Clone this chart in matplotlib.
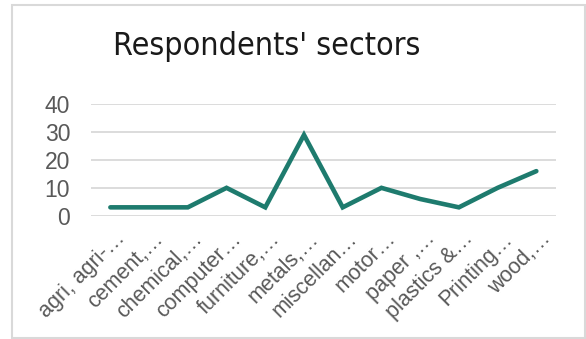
import matplotlib
matplotlib.use("Agg")
import matplotlib.pyplot as plt
from matplotlib.patches import Rectangle
from matplotlib.transforms import ScaledTranslation

categories = ["agri, agri-…", "cement,…", "chemical,…", "computer…",
              "furniture,…", "metals,…", "miscellan…", "motor…",
              "paper ,…", "plastics &…", "Printing…", "wood,…"]
respondents = [3, 3, 3, 10, 3, 29, 3, 10, 6, 3, 10, 16]
y_ticks = [0, 10, 20, 30, 40]

W, H = 586, 339
fig = plt.figure(figsize=(W / 100, H / 100), dpi=100)
fig.patch.set_facecolor("white")

# outer chart frame
fig.add_artist(Rectangle((12 / W, 1 - 338 / H), (585 - 12) / W, (338 - 5) / H,
                         transform=fig.transFigure, fill=False,
                         edgecolor="#d9d9d9", linewidth=1.5))

ax = fig.add_axes([91 / W, 1 - 215.7 / H, (555.7 - 91) / W, (215.7 - 104.3) / H])
x = list(range(len(categories)))
ax.plot(x, respondents, color="#1e7b6e", linewidth=3.3,
        solid_joinstyle="miter", solid_capstyle="round", zorder=3)

ax.set_xlim(-0.5, len(categories) - 0.5)
ax.set_ylim(0, 40)
ax.set_yticks(y_ticks)
ax.yaxis.grid(True, color="#d9d9d9", linewidth=1.3)
ax.set_axisbelow(True)
for s in ax.spines.values():
    s.set_visible(False)
ax.tick_params(axis="both", length=0, labelcolor="#595959", labelsize=16.5)
ax.tick_params(axis="y", pad=15)
ax.tick_params(axis="x", pad=9)
ax.set_xticks(x)
ax.set_xticklabels(categories, rotation=45, ha="right", va="top",
                   rotation_mode="anchor", fontsize=15.5, color="#595959",
                   family="Liberation Sans")
shift = ScaledTranslation(4 / 100, 0, fig.dpi_scale_trans)
for lab in ax.get_xticklabels():
    lab.set_transform(lab.get_transform() + shift)
for lab in ax.get_yticklabels():
    lab.set_family("Liberation Sans")

fig.text(266.5 / W, 1 - 46 / H, "Respondents' sectors", ha="center", va="center",
         fontsize=23, color="#1a1a1a", family="DejaVu Sans",
         fontstretch="condensed")

fig.savefig("out.png", dpi=100, facecolor="white")
